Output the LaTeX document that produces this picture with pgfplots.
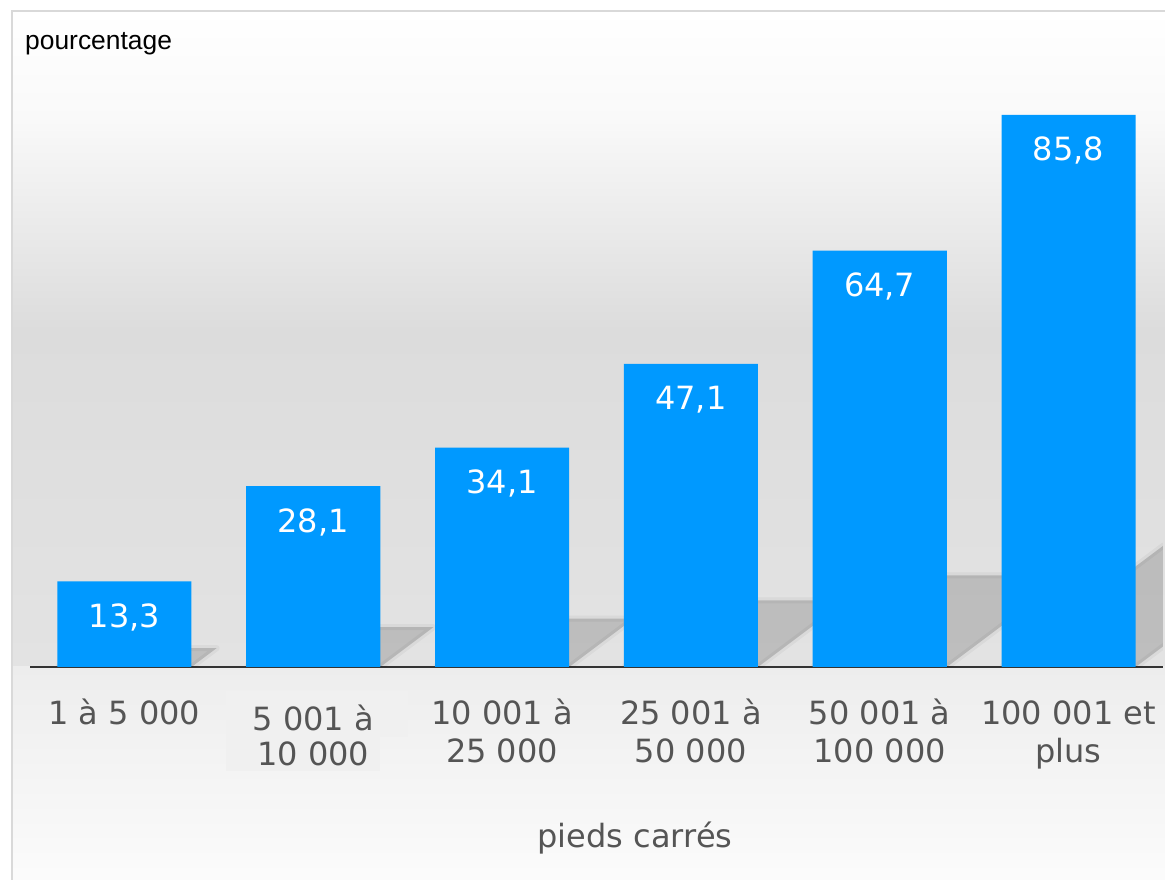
\documentclass[border=0pt]{standalone}
\usepackage{pgfplots}
\pgfplotsset{compat=1.18}
\usepackage{fontspec}
\setmainfont{DejaVu Sans}
\newfontfamily\arialfont{Liberation Sans}
\definecolor{barblue}{HTML}{0099FF}
\definecolor{labgray}{HTML}{555555}
\definecolor{framegray}{HTML}{D9D9D9}
\definecolor{axisline}{HTML}{333333}
\definecolor{bgA}{HTML}{FFFFFF}
\definecolor{bgB}{HTML}{F9F9F9}
\definecolor{bgC}{HTML}{DCDCDC}
\definecolor{bgD}{HTML}{E3E3E3}
\definecolor{bgE}{HTML}{EDEDED}
\definecolor{bgF}{HTML}{FCFCFC}
\definecolor{boxgray}{HTML}{F0F0F0}
\begin{document}
\begin{tikzpicture}[x=1pt,y=1pt]
% page background and frame
\fill[white] (0,0) rectangle (1165,880);
\shade[top color=bgA, bottom color=bgB] (12,760) rectangle (1180,870);
\shade[top color=bgB, bottom color=bgC] (12,550) rectangle (1180,760.5);
\shade[top color=bgC, bottom color=bgD] (12,213) rectangle (1180,550.5);
\shade[top color=bgE, bottom color=bgF] (12,-10) rectangle (1180,213);
\fill[boxgray] (226,143) rectangle (408,189);
\fill[boxgray] (226,109) rectangle (380,143.5);
\draw[framegray, line width=2pt] (12,-10) rectangle (1190,869);
\begin{axis}[
  at={(30pt,213pt)}, anchor=south west,
  scale only axis, width=1133pt, height=579.06pt,
  xmin=-0.5, xmax=5.5, ymin=0, ymax=90,
  axis y line=none, axis x line*=bottom,
  x axis line style={axisline, line width=2pt},
  xtick={0,1,2,3,4,5},
  xticklabels={{\strut 1 à 5 000},{\strut\raisebox{-6pt}{5 001 à}\\\raisebox{-3pt}{10 000}},{\strut 10 001 à\\25 000},{\strut 25 001 à\\50 000},{\strut 50 001 à\\100 000},{\strut 100 001 et\\plus}},
  major tick length=0pt,
  xtick style={draw=none},
  xticklabel style={font=\fontsize{32}{38.4}\selectfont, text=labgray, align=center, anchor=north, inner sep=0pt, yshift=-30pt},
  /pgf/number format/use comma,
  /pgf/number format/fixed,
  /pgf/number format/fixed zerofill,
  /pgf/number format/precision=1,
  /pgf/number format/assume math mode=true,
  shadowst/.style={draw=black, draw opacity=0.04, line width=6pt, line join=round, fill=black, fill opacity=0.16},
]
\addplot[shadowst] coordinates {(-0.355,0) (0.355,0) (0.488,2.93) (-0.222,2.93) (-0.355,0)};
\addplot[shadowst] coordinates {(0.645,0) (1.355,0) (1.636,6.18) (0.926,6.18) (0.645,0)};
\addplot[shadowst] coordinates {(1.645,0) (2.355,0) (2.696,7.50) (1.986,7.50) (1.645,0)};
\addplot[shadowst] coordinates {(2.645,0) (3.355,0) (3.826,10.36) (3.116,10.36) (2.645,0)};
\addplot[shadowst] coordinates {(3.645,0) (4.355,0) (5.002,14.23) (4.292,14.23) (3.645,0)};
\addplot[shadowst] coordinates {(4.645,0) (5.355,0) (6.213,18.88) (5.503,18.88) (4.645,0)};
\addplot[ybar, bar width=0.71, fill=barblue, draw=none,
  nodes near coords,
  nodes near coords style={font=\fontsize{32}{38.4}\selectfont, text=white, anchor=base, yshift=-46pt}]
  coordinates {(0,13.3) (1,28.1) (2,34.1) (3,47.1) (4,64.7) (5,85.8)};
\end{axis}
\node[anchor=base, inner sep=0pt, text=labgray, font=\fontsize{32}{38.4}\selectfont] at (635,32) {pieds carrés};
\node[anchor=base west, inner sep=0pt, font=\arialfont\fontsize{26.4}{31}\selectfont] at (25,830) {pourcentage};
\pgfresetboundingbox
\path (0,0) rectangle (1165,880);
\end{tikzpicture}
\end{document}
